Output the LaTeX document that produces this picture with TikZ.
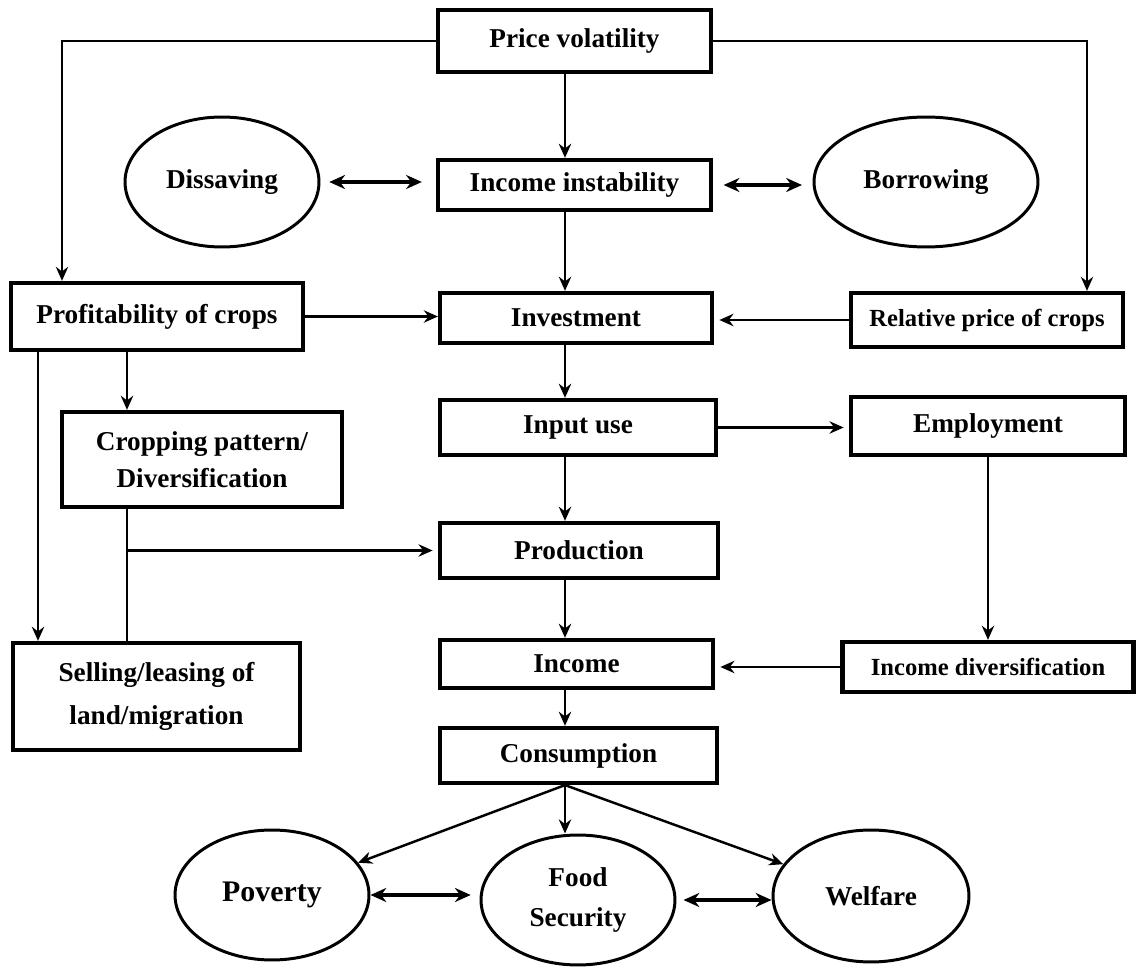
\documentclass[tikz,border=0pt]{standalone}
\usepackage{fontspec}
\setmainfont{Liberation Serif}
\usetikzlibrary{arrows.meta,shapes.geometric}

\begin{document}
\begin{tikzpicture}[x=0.02cm,y=-0.02cm,
	box/.style={draw, line width=2.4pt, inner sep=0pt, align=center, font=\bfseries\fontsize{15.5}{21}\selectfont},
	oval/.style={draw, ellipse, line width=1.7pt, inner sep=0pt, align=center, font=\bfseries\fontsize{15.5}{23}\selectfont},
	side/.style={line width=1.1pt, -{Stealth[length=8pt,width=7pt]}},
	conn/.style={line width=1.4pt, -{Stealth[length=8pt,width=7pt]}},
	dbl/.style={line width=2.2pt, {Stealth[length=9pt,width=8pt]}-{Stealth[length=9pt,width=8pt]}}]
\useasboundingbox (0,0) rectangle (1137,969);

% x positions of the vertical lines
\coordinate (col) at (565,0);
\coordinate (px) at (62,0);
\coordinate (rx) at (1087,0);
\coordinate (lx) at (38,0);
\coordinate (cx) at (127,0);

% central column
\node[box, minimum width=5.46cm, minimum height=1.24cm] (pv) at (574.5,41) {Price volatility};
\node[box, minimum width=5.46cm, minimum height=1cm] (inst) at (574.5,185) {Income instability};
\node[box, minimum width=5.44cm, minimum height=1cm] (inv) at (576,318) {Investment};
\node[box, minimum width=5.52cm, minimum height=1.1cm] (inp) at (578,427.5) {Input use};
\node[box, minimum width=5.56cm, minimum height=1.1cm] (prod) at (579,550.5) {Production};
\node[box, minimum width=5.46cm, minimum height=0.96cm] (inc) at (576.5,664) {Income};
\node[box, minimum width=5.54cm, minimum height=1.1cm] (cons) at (578.5,755.5) {Consumption};

% left side
\node[oval, minimum width=3.88cm, minimum height=2.6cm] (dis) at (222,182) {Dissaving};
\node[box, minimum width=5.84cm, minimum height=1.34cm] (prof) at (157,316.5) {Profitability of crops};
\node[box, minimum width=5.6cm, minimum height=1.9cm] (crop) at (202,459.5) {Cropping pattern/\\Diversification};
\node[box, minimum width=5.74cm, minimum height=2.14cm, font=\bfseries\fontsize{15.5}{24.5}\selectfont] (sell) at (156.5,696.5) {Selling/leasing of\\land/migration};

% right side
\node[oval, minimum width=4.48cm, minimum height=2.6cm] (bor) at (926,182) {Borrowing};
\node[box, minimum width=5.44cm, minimum height=1.08cm, font=\bfseries\fontsize{14}{18}\selectfont] (rel) at (987,320) {Relative price of crops};
\node[box, minimum width=5.48cm, minimum height=1.16cm] (emp) at (988,426) {Employment};
\node[box, minimum width=5.82cm, minimum height=1cm, font=\bfseries\fontsize{14}{18}\selectfont] (div) at (988,667) {Income diversification};

% outcomes
\node[oval, minimum width=3.88cm, minimum height=2.6cm, font=\bfseries\fontsize{17}{23}\selectfont] (pov) at (272,895) {Poverty};
\node[oval, minimum width=3.88cm, minimum height=2.6cm] (food) at (578,900) {Food\\Security};
\node[oval, minimum width=3.92cm, minimum height=2.64cm] (wel) at (871,896) {Welfare};

% connectors
\draw[side] (pv.west) -| (px |- prof.north);
\draw[side] (pv.east) -| (rx |- rel.north);
\draw[conn] (pv.south -| col) -- (inst.north -| col);
\draw[conn] (inst.south -| col) -- (inv.north -| col);
\draw[conn] (inv.south -| col) -- (inp.north -| col);
\draw[conn] (inp.south -| col) -- (prod.north -| col);
\draw[conn] (prod.south -| col) -- (inc.north -| col);
\draw[conn] (inc.south -| col) -- (cons.north -| col);
\draw[dbl, shorten <=5pt, shorten >=8pt] (dis.east) -- (dis.east -| inst.west);
\draw[dbl, shorten <=6pt, shorten >=6pt] (inst.east) -- (inst.east -| bor.west);
\draw[conn] (prof.east) -- (prof.east -| inv.west);
\draw[conn, shorten >=3pt] (rel.west) -- (rel.west -| inv.east);
\draw[conn] (prof.south -| cx) -- (crop.north -| cx);
\draw[conn] (prof.south -| lx) -- (sell.north -| lx);
\draw[line width=1.4pt] (crop.south -| cx) -- (sell.north -| cx);
\draw[conn, shorten >=3pt] (prod.west -| cx) -- (prod.west);
\draw[conn, shorten >=3pt] (inp.east) -- (inp.east -| emp.west);
\draw[conn] (emp.south) -- (div.north);
\draw[conn, shorten >=3pt] (div.west) -- (div.west -| inc.east);
\draw[conn] (cons.south -| col) -- (pov);
\draw[conn] (cons.south -| col) -- (food.north -| col);
\draw[conn] (cons.south -| col) -- (wel);
\draw[dbl, shorten >=5pt] (pov.east) -- (pov.east -| food.west);
\draw[dbl, shorten <=4pt] (food.east) -- (food.east -| wel.west);
\end{tikzpicture}
\end{document}
